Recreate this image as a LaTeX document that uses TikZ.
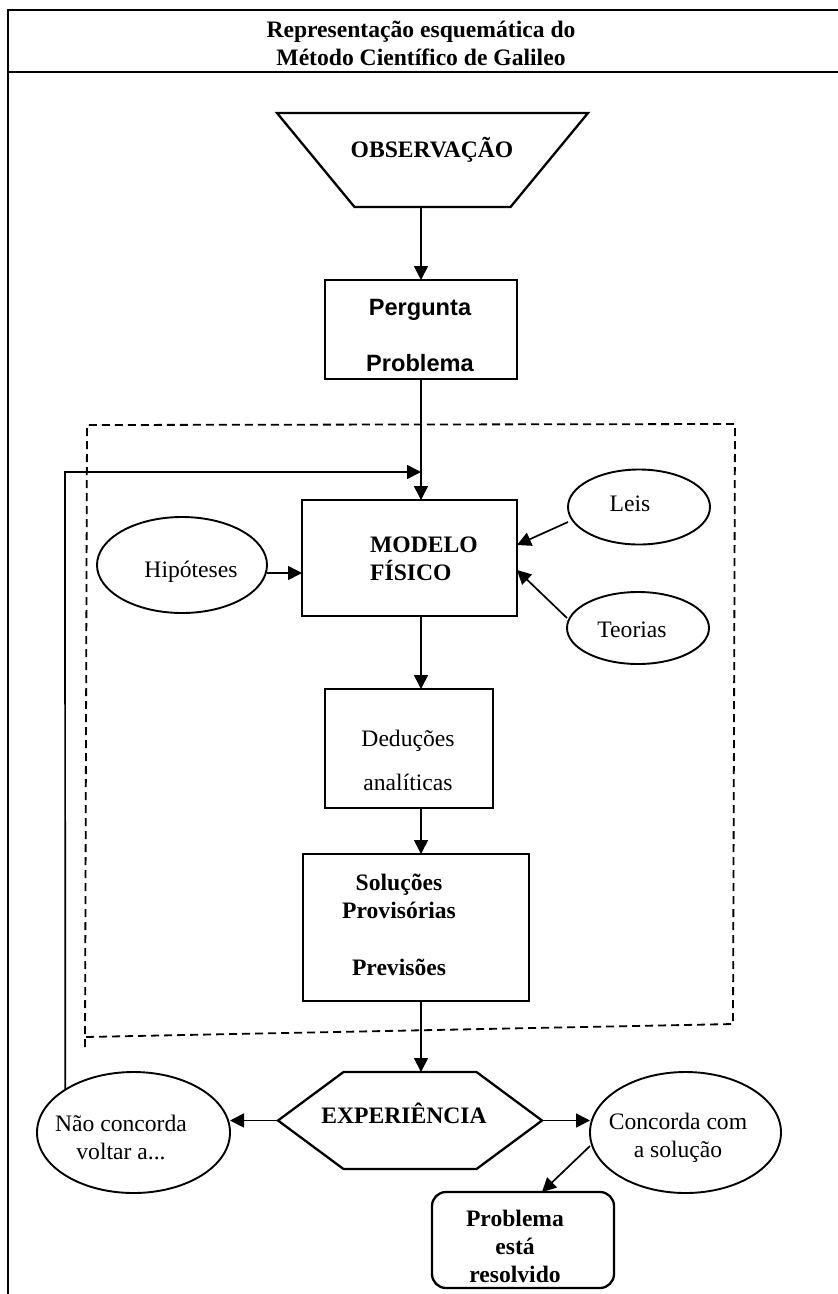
\documentclass[tikz,border=0pt]{standalone}
\usepackage{fontspec}
\setmainfont{Liberation Serif}
\newfontfamily\arialf{Liberation Sans}
\usetikzlibrary{arrows.meta,shapes.geometric}
\begin{document}
\begin{tikzpicture}[x=1pt,y=-1pt,
  every node/.style={font=\fontsize{23.6}{28}\selectfont},
  frameline/.style={line width=2.6pt},
  shapebox/.style={draw, line width=2.3pt, inner sep=0pt, outer sep=0pt},
  ghost/.style={inner sep=0pt, outer sep=0pt},
  oval/.style={draw, ellipse, line width=1.9pt, inner sep=0pt, outer sep=0pt},
  arr/.style={line width=1.7pt, -{Triangle[length=14pt,width=14pt]}},
  dashline/.style={line width=1.8pt, dash pattern=on 8pt off 5pt},
  txt/.style={inner sep=0pt, align=center},
  bold/.style={font=\fontsize{23.6}{28}\selectfont\bfseries},
]
\useasboundingbox (0,0) rectangle (838,1294);

% outer frame and title
\draw[frameline] (8,1294) -- (8,10) -- (838,10);
\draw[frameline] (8,72) -- (838,72);
\node[txt, bold] (title) at (421,43) {Representação esquemática do\\Método Científico de Galileo};

% dashed region
\draw[dashline] (85,1047) -- (87,425) -- (735,424) -- (733,1024) -- (85,1037);

% shapes
\node[ghost, minimum width=311pt, minimum height=94pt] (obs) at (432.5,160) {};
\draw[line width=2.3pt, line join=miter] (obs.north west) -- (obs.north east) -- ([xshift=-77.5pt]obs.south east) -- ([xshift=77.5pt]obs.south west) -- cycle;
\node[shapebox, minimum width=192pt, minimum height=99pt] (perg) at (421,329.5) {};
\node[shapebox, minimum width=215pt, minimum height=116pt] (modelo) at (409.5,558) {};
\node[oval, minimum width=170pt, minimum height=96pt] (hip) at (182,565) {};
\node[oval, minimum width=142pt, minimum height=75pt] (leis) at (639,507) {};
\node[oval, minimum width=142pt, minimum height=72pt] (teo) at (638,628) {};
\node[shapebox, minimum width=168pt, minimum height=119pt] (ded) at (409,748.5) {};
\node[shapebox, minimum width=226pt, minimum height=147pt] (sol) at (416,927.5) {};
\node[ghost, minimum width=264pt, minimum height=97pt] (exp) at (410,1120.5) {};
\draw[line width=2.3pt] (exp.west) -- ([xshift=65.5pt]exp.north west) -- ([xshift=-65.5pt]exp.north east) -- (exp.east) -- ([xshift=-65.5pt]exp.south east) -- ([xshift=65.5pt]exp.south west) -- cycle;
\node[oval, minimum width=193pt, minimum height=121pt] (nao) at (133.5,1132.5) {};
\node[oval, minimum width=191pt, minimum height=121pt] (con) at (685.5,1132.5) {};
\node[shapebox, rounded corners=14pt, minimum width=182pt, minimum height=96pt] (res) at (523,1240) {};

% texts
\node[txt, bold] (obsT) at (432,150) {OBSERVAÇÃO};
\node[txt, font=\arialf\fontsize{23.6}{56}\selectfont\bfseries] (pergT) at (420,335) {Pergunta\\Problema};
\node[txt, bold, align=left, anchor=west] (modT) at (370,559) {MODELO\\FÍSICO};
\node[txt] (hipT) at (191,572) {Hipóteses};
\node[txt] (leisT) at (630,504) {Leis};
\node[txt] (teoT) at (632,630) {Teorias};
\node[txt, font=\fontsize{23.6}{44}\selectfont] (dedT) at (408,760) {Deduções\\analíticas};
\node[txt, bold] (solT) at (399,924.5) {Soluções\\Provisórias\\[29pt]Previsões};
\node[txt, bold] (expT) at (404,1113) {EXPERIÊNCIA};
\node[txt] (naoT) at (121,1137.5) {Não concorda\\voltar a...};
\node[txt] (conT) at (678,1137.5) {Concorda com\\a solução};
\node[txt, bold] (resT) at (515,1246.5) {Problema\\está\\resolvido};

% connectors
\draw[arr] (obs.south -| perg.north) -- (perg.north);
\draw[arr] (perg.south) -- (perg.south |- modelo.north);
\coordinate (fbc) at (65,472);
\draw[arr] (nao.north west) -- (fbc) -- (fbc -| perg.south);
\draw[arr] ([yshift=-8pt]hip.east) -- ([yshift=-8pt]hip.east -| modelo.west);
\draw[arr] ([yshift=-15pt]leis.west) -- ([yshift=13pt]modelo.east);
\draw[arr] ([yshift=10pt]teo.west) -- ([yshift=-12pt]modelo.east);
\draw[arr] (modelo.south -| perg.south) -- (ded.north -| perg.south);
\draw[arr] (ded.south -| perg.south) -- (sol.north -| perg.south);
\draw[arr] (sol.south -| perg.south) -- (exp.north -| perg.south);
\draw[arr] (exp.west) -- (exp.west -| nao.east);
\draw[arr] (exp.east) -- (exp.east -| con.west);
\draw[arr] ([yshift=-13.5pt]con.west) -- ([xshift=19pt]res.north);
\end{tikzpicture}
\end{document}
